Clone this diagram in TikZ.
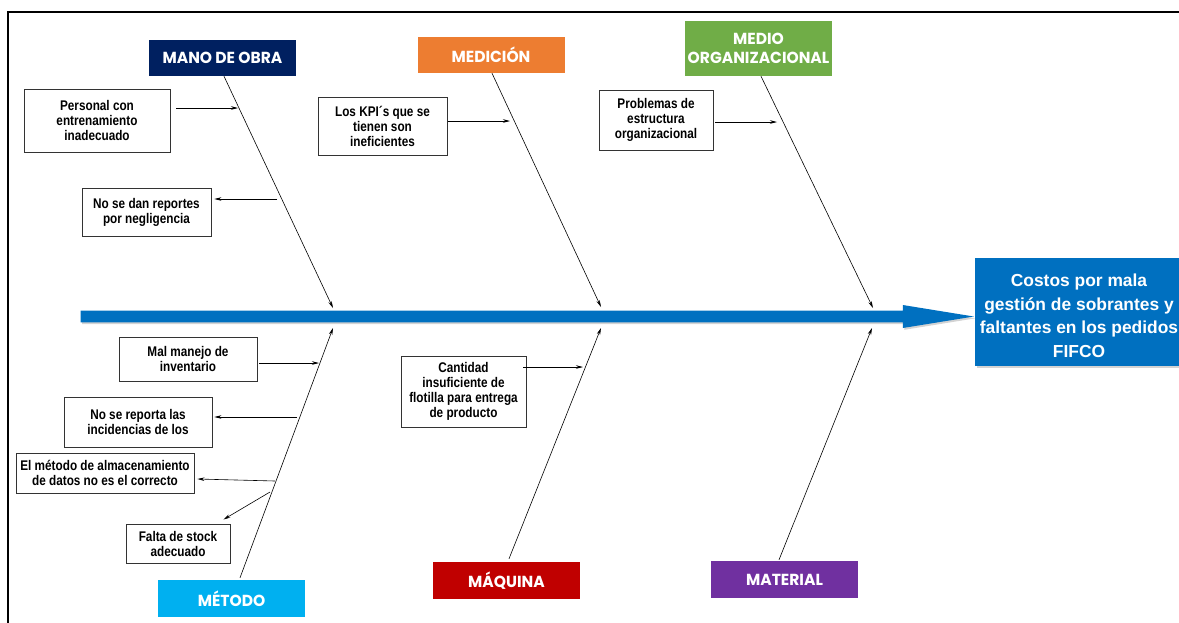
\documentclass[tikz,border=0pt]{standalone}
\usepackage{fontspec}
\setmainfont{Liberation Sans}
\newfontfamily\causefont{Liberation Sans}[FakeStretch=0.84]
\newfontfamily\catfont{Poppins}[FakeStretch=0.97]
\usetikzlibrary{arrows.meta,calc,shadows}

\definecolor{spineblue}{HTML}{0070C0}
\definecolor{catnavy}{HTML}{002060}
\definecolor{catorange}{HTML}{ED7D31}
\definecolor{catgreen}{HTML}{70AD47}
\definecolor{catcyan}{HTML}{00B0F0}
\definecolor{catred}{HTML}{C00000}
\definecolor{catpurple}{HTML}{7030A0}

\tikzset{
  cat/.style={fill=#1, text=white, inner sep=0pt, align=center, minimum width=147pt,
    font=\catfont\bfseries\fontsize{16}{18}\selectfont},
  cause/.style={draw=black!80, line width=0.9pt, fill=white, inner sep=0pt, align=center,
    font=\causefont\bfseries\fontsize{14}{15}\selectfont,
    execute at begin node={\rule{0pt}{14.5pt}}},
  bone/.style={line width=0.6pt, -{Stealth[length=7pt,width=3.5pt]}},
  twig/.style={line width=0.6pt, -{Stealth[length=7pt,width=3.5pt]}},
  softshadow/.style={drop shadow={shadow xshift=1.6pt, shadow yshift=-1.8pt, opacity=0.35}},
}

\begin{document}
\begin{tikzpicture}[x=1pt,y=-1pt]
\useasboundingbox (0,0) rectangle (1179,622);
\clip (0,0) rectangle (1179,622);

% outer frame
\draw[line width=2pt] (8,630) -- (8,12) -- (1190,12);

% effect
\node[fill=spineblue, text=white, inner sep=0pt, minimum width=208pt, minimum height=108pt,
      align=center, softshadow,
      font=\bfseries\fontsize{17.4}{23.5}\selectfont] (effect) at (1079,312)
  {\rule{0pt}{20.5pt}Costos por mala\\gestión de sobrantes y\\faltantes en los pedidos\\FIFCO};

% spine with its arrow head
\coordinate (tail) at (80.5,316.5);
\coordinate (tip) at ($(effect.west |- tail)+(-1,0)$);
\fill[spineblue, softshadow]
  ($(tail)+(0,-5.8)$) -- ($(tip)+(-71,-5.8)$) -- ($(tip)+(-71,-11.5)$) -- (tip)
  -- ($(tip)+(-71,11.5)$) -- ($(tip)+(-71,5.8)$) -- ($(tail)+(0,5.8)$) -- cycle;

% categories
\node[cat=catnavy, minimum height=36pt] (mano) at (222.5,58) {MANO DE OBRA};
\node[cat=catorange, minimum height=36pt] (medicion) at (491,55) {MEDICIÓN};
\node[cat=catgreen, minimum height=55pt] (medio) at (758.5,48.5) {MEDIO\\[1pt]ORGANIZACIONAL};
\node[cat=catcyan, minimum height=37pt] (metodo) at (231.5,598.5) {MÉTODO};
\node[cat=catred, minimum height=37pt] (maquina) at (506.5,580.5) {MÁQUINA};
\node[cat=catpurple, minimum height=37pt] (material) at (784.5,579.5) {MATERIAL};

% bone ends near the spine
\coordinate (e1) at (333,308);
\coordinate (e2) at (601,307);
\coordinate (e3) at (873,308);
\coordinate (e4) at (333,328);
\coordinate (e5) at (601,328);
\coordinate (e6) at (872,328);

\draw[bone] ([xshift=1.5pt]mano.south) -- (e1);
\draw[bone] ([xshift=1pt]medicion.south) -- (e2);
\draw[bone] ([xshift=2.5pt]medio.south) -- (e3);
\draw[bone] ([xshift=8.5pt,yshift=2pt]metodo.north) -- (e4);
\draw[bone] ([xshift=2.5pt,yshift=3pt]maquina.north) -- (e5);
\draw[bone] ([xshift=-5.5pt,yshift=1pt]material.north) -- (e6);

% causes
\node[cause, minimum width=146pt, minimum height=63pt] (p1) at (97,120.5)
  {Personal con\\entrenamiento\\inadecuado};
\node[cause, minimum width=129pt, minimum height=48pt] (p2) at (146.5,212)
  {No se dan reportes\\por negligencia};
\node[cause, minimum width=129pt, minimum height=58pt] (p3) at (382.5,126)
  {Los KPI´s que se\\tienen son\\ineficientes};
\node[cause, minimum width=114pt, minimum height=60pt] (p4) at (656,120)
  {Problemas de\\estructura\\organizacional};
\node[cause, minimum width=138pt, minimum height=44pt] (p5) at (188,359)
  {Mal manejo de\\inventario};
\node[cause, minimum width=148pt, minimum height=50pt] (p6) at (138,422)
  {No se reporta las\\incidencias de los};
\node[cause, minimum width=178pt, minimum height=40pt] (p7) at (105,473)
  {El método de almacenamiento\\de datos no es el correcto};
\node[cause, minimum width=104pt, minimum height=39pt] (p8) at (178,543.5)
  {Falta de stock\\adecuado};
\node[cause, minimum width=125pt, minimum height=71pt] (p9) at (463.5,391.5)
  {Cantidad\\insuficiente de\\flotilla para entrega\\de producto};

% twig ends on the bones
\coordinate (t1) at (238,108);
\coordinate (t2) at (277,199);
\coordinate (t3) at (510,121);
\coordinate (t4) at (777,122);
\coordinate (t5) at (319,363);
\coordinate (t6) at (297,417);
\coordinate (t7) at (275,481);
\coordinate (t8) at (270,492);
\coordinate (t9) at (583,367);

\draw[twig] ($(p1.east |- t1)+(6,0)$) -- (t1);
\draw[twig] (t2) -- ($(p2.east |- t2)+(3,0)$);
\draw[twig] ($(p3.east |- t3)+(1,0)$) -- (t3);
\draw[twig] ($(p4.east |- t4)+(2,0)$) -- (t4);
\draw[twig] ($(p5.east |- t5)+(2,0)$) -- (t5);
\draw[twig] (t6) -- ($(p6.east |- t6)+(2,0)$);
\draw[twig] (t7) -- ($(p7.east)+(3,6)$);
\draw[twig] (t8) -- ($(p8.north east)+(-7,-4)$);
\draw[twig] ($(p9.east |- t9)+(-3,0)$) -- (t9);
\end{tikzpicture}
\end{document}
